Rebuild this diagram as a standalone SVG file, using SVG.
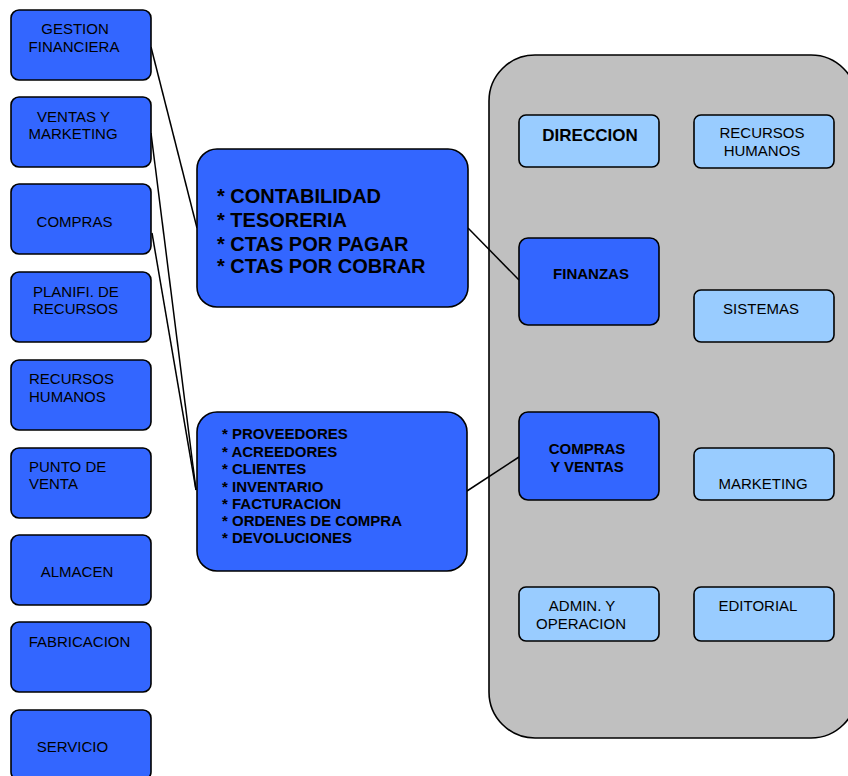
<svg xmlns="http://www.w3.org/2000/svg" width="848" height="776" viewBox="0 0 848 776">
<style>
.b{fill:#3366FF;stroke:#000;stroke-width:1.6}
.l{fill:#99CCFF;stroke:#000;stroke-width:1.6}
.g{fill:#C0C0C0;stroke:#000;stroke-width:1.6}
text{font-family:"Liberation Sans",Arial,sans-serif;fill:#000}
.t{font-size:15px}
.c{text-anchor:middle}
.bd{font-weight:bold}
.big{font-size:20px;font-weight:bold}
.cn line{stroke:#000;stroke-width:1.5}
</style>
<rect width="848" height="776" fill="#fff"/>
<g id="panel"><rect class="g" x="489" y="55" width="368" height="683" rx="46"/></g>
<g class="cn" id="connectors">
<line x1="151" y1="47" x2="197" y2="228"/>
<line x1="151" y1="133" x2="196" y2="490"/>
<line x1="152" y1="233" x2="196" y2="490"/>
<line x1="468" y1="228" x2="519" y2="280"/>
<line x1="467" y1="491" x2="519" y2="457"/>
</g>
<g id="n-gestion"><rect class="b" x="11" y="10" width="140" height="70" rx="8"/><text class="t c" x="75" y="34">GESTION</text><text class="t c" x="74" y="52">FINANCIERA</text></g>
<g id="n-ventas"><rect class="b" x="11" y="97" width="140" height="70" rx="8"/><text class="t c" x="73.5" y="122">VENTAS Y</text><text class="t c" x="73" y="139">MARKETING</text></g>
<g id="n-compras"><rect class="b" x="11" y="184" width="140" height="70" rx="8"/><text class="t c" x="74.5" y="227">COMPRAS</text></g>
<g id="n-planifi"><rect class="b" x="11" y="272" width="140" height="70" rx="8"/><text class="t" x="33" y="297">PLANIFI. DE</text><text class="t" x="33" y="314">RECURSOS</text></g>
<g id="n-rrhh"><rect class="b" x="11" y="360" width="140" height="70" rx="8"/><text class="t" x="29" y="384">RECURSOS</text><text class="t" x="29" y="402">HUMANOS</text></g>
<g id="n-punto"><rect class="b" x="11" y="448" width="140" height="70" rx="8"/><text class="t" x="29" y="472">PUNTO DE</text><text class="t" x="29" y="489">VENTA</text></g>
<g id="n-almacen"><rect class="b" x="11" y="535" width="140" height="70" rx="8"/><text class="t c" x="77" y="577">ALMACEN</text></g>
<g id="n-fabricacion"><rect class="b" x="11" y="622" width="140" height="70" rx="8"/><text class="t c" x="79.5" y="647">FABRICACION</text></g>
<g id="n-servicio"><rect class="b" x="11" y="710" width="140" height="70" rx="8"/><text class="t c" x="72.5" y="752">SERVICIO</text></g>
<g id="n-finlist"><rect class="b" x="197" y="149" width="271" height="158" rx="20"/>
<text class="big" x="217" y="203">* CONTABILIDAD</text>
<text class="big" x="217" y="227">* TESORERIA</text>
<text class="big" x="217" y="251">* CTAS POR PAGAR</text>
<text class="big" x="217" y="273">* CTAS POR COBRAR</text></g>
<g id="n-cvlist"><rect class="b" x="197" y="412" width="270" height="159" rx="20"/>
<text class="bd t" x="222" y="439">* PROVEEDORES</text>
<text class="bd t" x="222" y="457">* ACREEDORES</text>
<text class="bd t" x="222" y="474">* CLIENTES</text>
<text class="bd t" x="222" y="492">* INVENTARIO</text>
<text class="bd t" x="222" y="509">* FACTURACION</text>
<text class="bd t" x="222" y="526">* ORDENES DE COMPRA</text>
<text class="bd t" x="222" y="543">* DEVOLUCIONES</text></g>
<g id="n-direccion"><rect class="l" x="519" y="115" width="140" height="52" rx="7"/><text class="bd c" style="font-size:17px" x="590" y="141">DIRECCION</text></g>
<g id="n-rrhh2"><rect class="l" x="694" y="115" width="140" height="53" rx="7"/><text class="t c" x="762" y="138">RECURSOS</text><text class="t c" x="762" y="156">HUMANOS</text></g>
<g id="n-finanzas"><rect class="b" x="519" y="238" width="140" height="87" rx="9"/><text class="t c bd" x="591" y="279">FINANZAS</text></g>
<g id="n-sistemas"><rect class="l" x="694" y="290" width="140" height="52" rx="7"/><text class="t c" x="761" y="314">SISTEMAS</text></g>
<g id="n-cv"><rect class="b" x="519" y="412" width="140" height="88" rx="9"/><text class="t c bd" x="587" y="454">COMPRAS</text><text class="t c bd" x="587" y="472">Y VENTAS</text></g>
<g id="n-marketing"><rect class="l" x="694" y="448" width="140" height="52" rx="7"/><text class="t c" x="763" y="489">MARKETING</text></g>
<g id="n-admin"><rect class="l" x="519" y="587" width="140" height="54" rx="7"/><text class="t c" x="582" y="611">ADMIN. Y</text><text class="t c" x="581" y="629">OPERACION</text></g>
<g id="n-editorial"><rect class="l" x="694" y="587" width="140" height="54" rx="7"/><text class="t c" x="758" y="611">EDITORIAL</text></g>
</svg>
